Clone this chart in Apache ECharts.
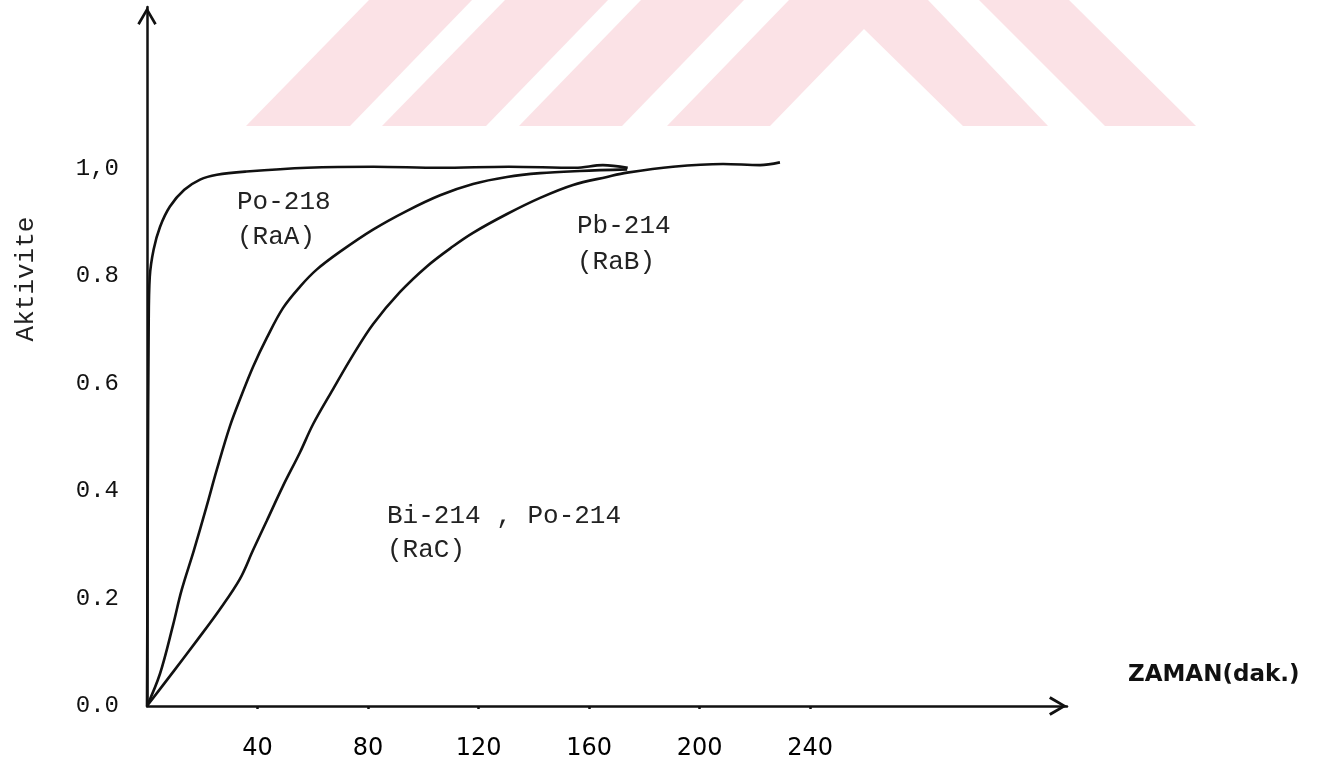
<!DOCTYPE html>
<html><head><meta charset="utf-8">
<script src="https://cdn.jsdelivr.net/npm/echarts@6/dist/echarts.min.js"></script>
<style>html,body{margin:0;padding:0;background:#fff}#c{width:1322px;height:768px}</style>
</head><body><div id="c"></div>
<script>
// tick labels
const xTicks = [40, 80, 120, 160, 200, 240];
const yTicks = [0, 0.2, 0.4, 0.6, 0.8, 1.0];

// Po-218 (RaA)
const poTime = [0, 0.3, 0.6, 1.0, 2.4, 4.7, 8.3, 13.5, 19.2, 25.3, 36, 58, 82, 106, 131, 155, 165, 174];
const poAct  = [0, 0.40, 0.70, 0.798, 0.849, 0.891, 0.929, 0.960, 0.979, 0.988, 0.994, 1.001, 1.003, 1.001, 1.003, 1.001, 1.006, 1.001];

// Pb-214 (RaB)
const pbTime = [0, 4.7, 9.4, 12.5, 17.0, 21.5, 25.3, 30.0, 34.0, 38.4, 43.4, 49.2, 55.4, 61.5, 69.9, 81.8, 94.1, 106.1, 118.0, 130.3, 142.3, 156.7, 173.8];
const pbAct  = [0, 0.060, 0.150, 0.215, 0.290, 0.370, 0.440, 0.520, 0.575, 0.631, 0.685, 0.740, 0.780, 0.812, 0.845, 0.886, 0.921, 0.950, 0.971, 0.984, 0.991, 0.995, 0.998];

// Bi-214 , Po-214 (RaC)
const rcTime = [0, 9.4, 18.1, 26.4, 33.7, 38.4, 43.4, 49.2, 55.4, 60.1, 67.3, 74.6, 81.8, 91.6, 101.4, 110.8, 118.0, 130.3, 142.3, 154.2, 166.5, 173.8, 190.4, 208.5, 221.9, 229.1];
const rcAct  = [0, 0.063, 0.122, 0.180, 0.237, 0.290, 0.345, 0.409, 0.472, 0.524, 0.589, 0.653, 0.710, 0.770, 0.818, 0.855, 0.880, 0.915, 0.945, 0.969, 0.984, 0.992, 1.003, 1.008, 1.006, 1.011];

const zip = (t, a) => t.map((v, i) => [v, a[i]]);
const chevron = 'path://M10,0 L20,17 L17.6,18.6 L10,5.5 L2.4,18.6 L0,17 Z';
const ink = '#111';
const mono = '"Liberation Mono", "DejaVu Sans Mono", monospace';

function curve(name, data) {
  return {
    name: name, type: 'line', data: data, smooth: 0.35,
    showSymbol: false, clip: false, silent: true,
    lineStyle: { color: ink, width: 2.6 }, z: 3
  };
}

const wm = '#fbe2e6';
const watermark = [
  [[246,126],[350,126],[472,0],[369,0]],
  [[382,126],[486,126],[608,0],[505,0]],
  [[519,126],[622,126],[744,0],[641,0]],
  [[667,126],[770,126],[864,29],[963,126],[1048,126],[928,0],[789,0]],
  [[979,0],[1069,0],[1196,126],[1105,126]]
].map(p => ({ type: 'polygon', z: -10, silent: true, shape: { points: p }, style: { fill: wm } }));

function note(text, x, y, lh) {
  return { type: 'text', x: x, y: y, z: 5, silent: true,
    style: { text: text, font: '26px ' + mono, fill: '#222', lineHeight: lh, align: 'left', verticalAlign: 'top' } };
}

const chart = echarts.init(document.getElementById('c'));
chart.setOption({
  animation: false,
  backgroundColor: '#fff',
  grid: { left: 147, right: 255, top: 7, bottom: 61 },
  xAxis: {
    type: 'value', min: 0, max: 333,
    name: 'ZAMAN(dak.)\n ', nameLocation: 'end', nameGap: 61,
    nameTextStyle: { fontFamily: 'DejaVu Sans', fontWeight: 'bold', fontSize: 23, color: ink, lineHeight: 62 },
    axisLine: { show: true, lineStyle: { color: ink, width: 2.5 },
      symbol: ['none', chevron], symbolSize: [20, 18], symbolOffset: [0, -9] },
    axisTick: { show: true, customValues: xTicks, length: 3, lineStyle: { color: ink, width: 2.5 } },
    axisLabel: { customValues: xTicks, margin: 31, fontFamily: 'DejaVu Sans', fontSize: 24, color: '#000' },
    splitLine: { show: false }
  },
  yAxis: {
    type: 'value', min: 0, max: 1.3,
    name: 'Aktivite', nameLocation: 'middle', nameRotate: 90, nameGap: 108,
    nameTextStyle: { fontFamily: mono, fontSize: 26, color: '#222', padding: [0, 0, 0, 155] },
    axisLine: { show: true, lineStyle: { color: ink, width: 2.5 },
      symbol: ['none', chevron], symbolSize: [20, 18], symbolOffset: [0, -9] },
    axisTick: { show: false },
    axisLabel: { customValues: yTicks, margin: 28, fontFamily: mono, fontSize: 24, color: ink,
      formatter: v => (Math.abs(v - 1) < 1e-9 ? '1,0' : v.toFixed(1)) },
    splitLine: { show: false }
  },
  graphic: watermark.concat([
    note('Po-218\n(RaA)', 237, 185, 35),
    note('Pb-214\n(RaB)', 577, 208, 36),
    note('Bi-214 , Po-214\n(RaC)', 387, 499, 34)
  ]),
  series: [
    curve('Po-218 (RaA)', zip(poTime, poAct)),
    curve('Pb-214 (RaB)', zip(pbTime, pbAct)),
    curve('Bi-214 , Po-214 (RaC)', zip(rcTime, rcAct))
  ]
});
</script>
</body></html>
